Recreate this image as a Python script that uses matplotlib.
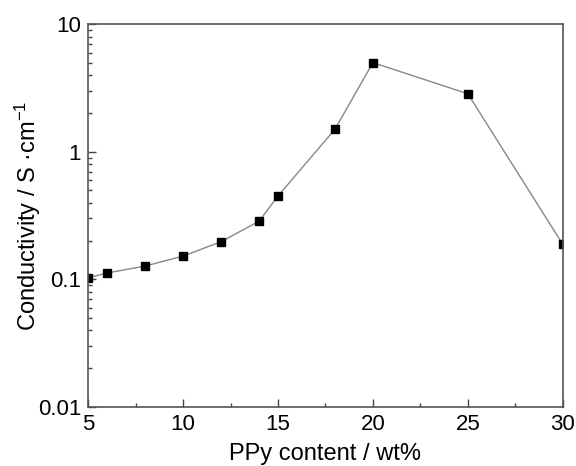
import matplotlib
matplotlib.use("Agg")
import matplotlib.pyplot as plt
from matplotlib.ticker import MultipleLocator, LogLocator, FixedLocator, FixedFormatter

plt.rcParams['font.family'] = ['Liberation Sans', 'DejaVu Sans']
plt.rcParams['mathtext.fontset'] = 'custom'
plt.rcParams['mathtext.rm'] = 'Liberation Sans'
plt.rcParams['mathtext.default'] = 'regular'

ppy = [5, 6, 8, 10, 12, 14, 15, 18, 20, 25, 30]
conductivity = [0.103, 0.112, 0.127, 0.152, 0.197, 0.285, 0.45, 1.5, 5.0, 2.85, 0.188]

fig = plt.figure(figsize=(5.76, 4.66), dpi=100)
ax = fig.add_axes([0.153, 0.127, 0.824, 0.821])

ax.plot(ppy, conductivity, color='#888888', linewidth=1.0,
        marker='s', markersize=6.2, markerfacecolor='black', markeredgecolor='black')

ax.set_yscale('log')
ax.set_xlim(5, 30)
ax.set_ylim(0.01, 10)

ax.xaxis.set_major_locator(MultipleLocator(5))
ax.xaxis.set_minor_locator(MultipleLocator(2.5))
ax.yaxis.set_major_locator(FixedLocator([0.01, 0.1, 1, 10]))
ax.yaxis.set_major_formatter(FixedFormatter(['0.01', '0.1', '1', '10']))
ax.yaxis.set_minor_locator(LogLocator(base=10, subs=range(2, 10)))
ax.yaxis.set_minor_formatter(plt.NullFormatter())

ax.tick_params(which='both', direction='in', top=False, right=False,
               labelsize=16, color='#444444', pad=5)
ax.tick_params(which='major', length=6, width=1)
ax.tick_params(which='minor', length=3, width=1)

for s in ax.spines.values():
    s.set_color('#555555')
    s.set_linewidth(1.2)

ax.set_xlabel('PPy content / wt%', fontsize=17, labelpad=6)
ax.set_ylabel('Conductivity / S \u00b7cm$^{-1}$', fontsize=17, labelpad=-4)

fig.savefig('out.png', dpi=100)
